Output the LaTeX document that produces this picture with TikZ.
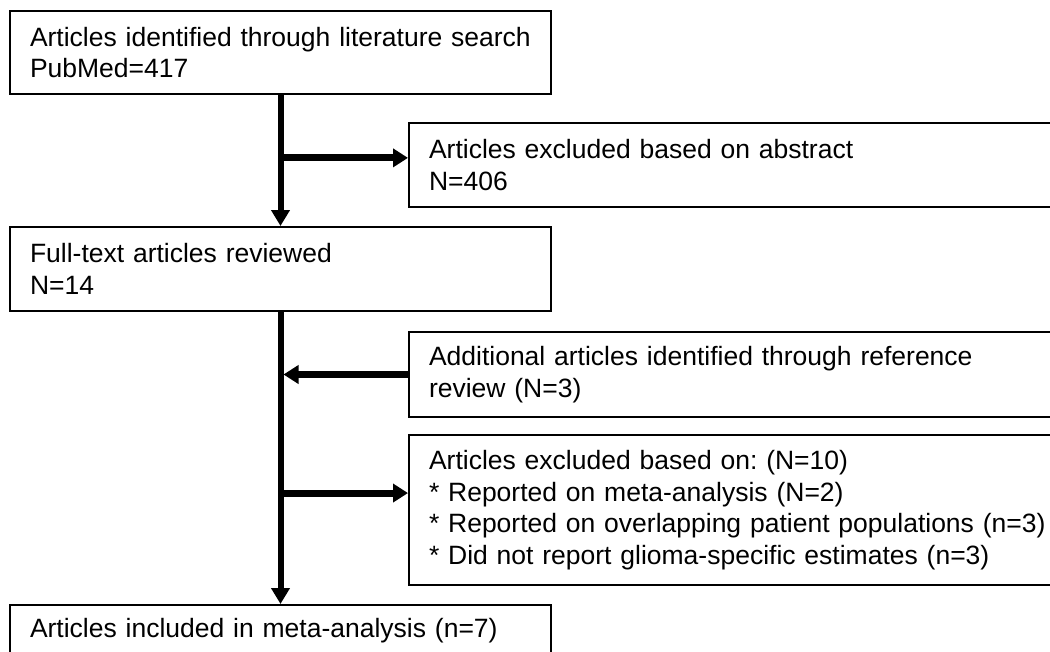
\documentclass[tikz,border=0pt]{standalone}
\usepackage{fontspec}
\setmainfont{Liberation Sans}
\usetikzlibrary{arrows.meta,calc}
\frenchspacing

\begin{document}
\begin{tikzpicture}[x=1pt,y=-1pt,
        box/.style={draw=black,line width=2pt,rectangle,anchor=north west,align=left,
            inner xsep=20pt,inner ysep=0pt,font=\fontsize{26.5pt}{31.5pt}\selectfont},
        flow/.style={line width=6pt,-{Triangle[width=18pt,length=16pt]}},
        side/.style={line width=7pt,-{Triangle[width=18pt,length=15pt]}}]
            % Frame (boxes run off the right and bottom edges)
            \useasboundingbox (0,0) rectangle (1050,651);
            \clip (0,0) rectangle (1050,651);
            % Main boxes
            \node[box,text width=501pt,minimum height=83pt] (search) at (9,10)
                {Articles identified through literature search\\PubMed=417};
            \node[box,text width=501pt,minimum height=84pt] (fulltext) at (9,226)
                {Full-text articles reviewed\\N=14};
            \node[box,text width=501pt,minimum height=52pt] (included) at (9,604)
                {Articles included in meta-analysis (n=7)};
            % Side boxes
            \node[box,text width=660pt,minimum height=84pt] (abstract) at (408,122)
                {Articles excluded based on abstract\\N=406};
            \node[box,text width=660pt,minimum height=85pt] (reference) at (408,331)
                {Additional articles identified through reference\\review (N=3)};
            \node[box,text width=660pt,minimum height=150pt] (excluded) at (408,434)
                {Articles excluded based on: (N=10)\\{}%
                 * Reported on meta-analysis (N=2)\\{}%
                 * Reported on overlapping patient populations (n=3)\\{}%
                 * Did not report glioma-specific estimates (n=3)};

            % Main flow
            \draw[flow] (search.south) -- (fulltext.north);
            \draw[flow] (fulltext.south) -- (included.north);
            \coordinate (j1) at ($(search.south)!0.48!(fulltext.north)$);
            \coordinate (j3) at ($(fulltext.south)!0.62!(included.north)$);

            % Branches
            \draw[side] (j1) -- (j1 -| abstract.west);
            \draw[side,shorten >=3pt] (reference.west) -- (reference.west -| fulltext.south);
            \draw[side] (j3) -- (j3 -| excluded.west);

        \end{tikzpicture}
\end{document}
